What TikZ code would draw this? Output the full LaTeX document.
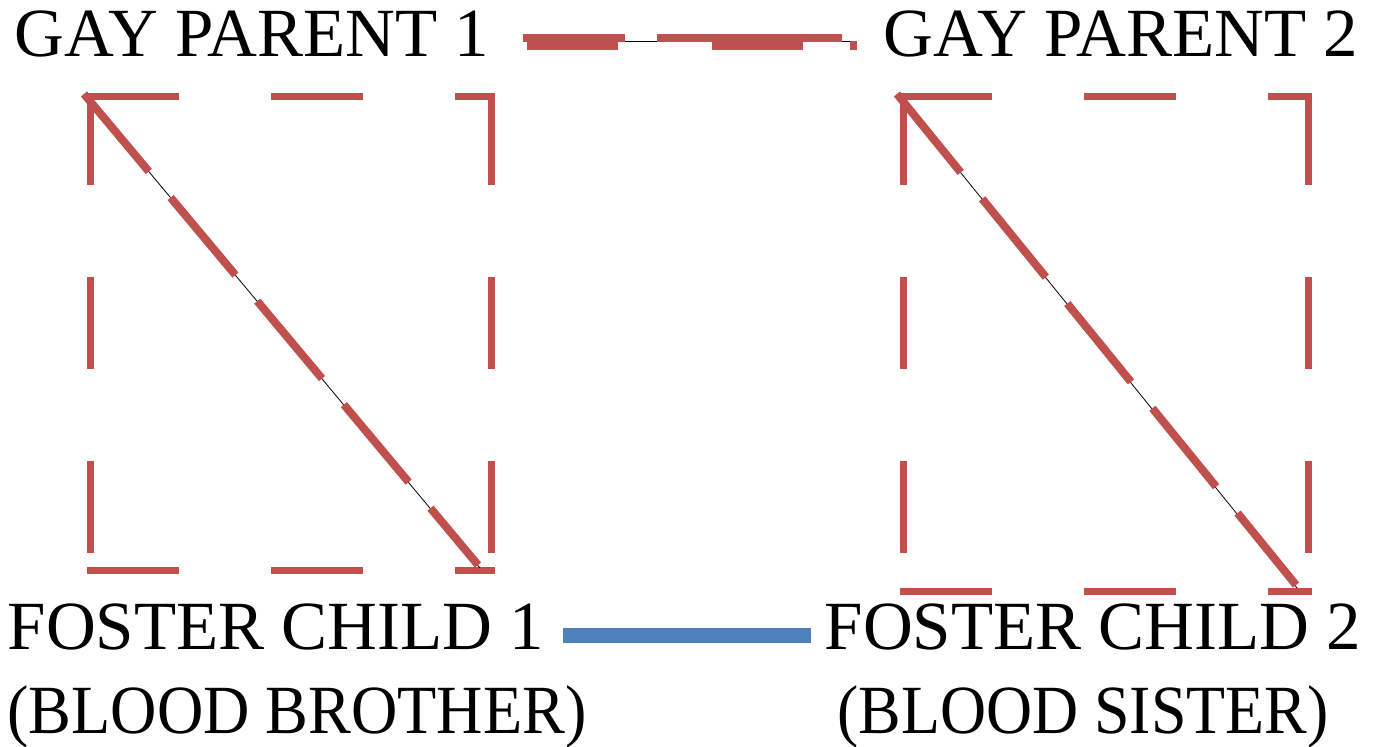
\documentclass[tikz,border=0pt]{standalone}
\usepackage{graphicx}
\usepackage{fontspec}
\setmainfont{Liberation Serif}
\definecolor{redline}{HTML}{C0504D}
\definecolor{blueline}{HTML}{4F81BD}
\begin{document}
\begin{tikzpicture}[x=0.5pt,y=-0.5pt,
        lbl/.style={font=\fontsize{34.5}{42}\selectfont,inner sep=0pt,anchor=base},
        box/.style={draw=redline,line width=3.5pt,line cap=rect,dash pattern=on 42.5pt off 49.5pt},
        diag/.style={draw=redline,line width=4pt,dash pattern=on 50.5pt off 17pt},
        thin/.style={draw=black,line width=0.4pt},
        tie/.style={draw=blueline,line width=7.5pt}
      ]
      \useasboundingbox (0,0) rectangle (1380,747);
      % people
      \node[lbl] (gp1) at (252,57) {GAY PARENT 1};
      \node[lbl] (gp2) at (1121,57) {GAY PARENT 2};
      \node[lbl] (fc1) at (276,649) {FOSTER CHILD 1};
      \node[lbl] (fc1b) at (297,733) {\scalebox{0.93}[1]{(BLOOD BROTHER)}};
      \node[lbl] (fc2) at (1093,649) {FOSTER CHILD 2};
      \node[lbl] (fc2b) at (1083,733) {\scalebox{0.925}[1]{(BLOOD SISTER)}};
      % corners of the boxes
      \coordinate (b1nw) at (90,97);
      \coordinate (b1se) at (491,571);
      \coordinate (b2nw) at (903,97);
      \coordinate (b2se) at (1308,592);
      % left box
      \draw[box] (b1nw) -- (b1nw -| b1se);
      \draw[box] (b1nw) -- (b1nw |- b1se);
      \draw[box] (b1nw |- b1se) -- (b1se);
      \draw[box] (b1nw -| b1se) -- (b1se);
      \draw[thin] (84,94) -- (480,568);
      \draw[diag] (84,94) -- (478,565);
      % right box
      \draw[box] (b2nw) -- (b2nw -| b2se);
      \draw[box] (b2nw) -- (b2nw |- b2se);
      \draw[box] (b2nw |- b2se) -- (b2se);
      \draw[box] (b2nw -| b2se) -- (b2se);
      \draw[thin] (897,94) -- (1297,588);
      \draw[diag] (897,94) -- (1296,585);
      % parents
      \coordinate (pa) at (523,41);
      \coordinate (pb) at (857,41);
      \draw[thin] (pa) -- (pb);
      \draw[diag,line width=4pt,dash pattern=on 51pt off 16pt on 100pt] ([yshift=1.5pt]pa) -- ([yshift=1.5pt,xshift=-7.5pt]pb);
      \draw[diag,line width=4.5pt,dash pattern=on 45.5pt off 47pt on 45.5pt off 23.5pt on 4pt] ([yshift=-2.5pt,xshift=2pt]pa) -- ([yshift=-2.5pt]pb);
      % children
      \draw[tie] (563,635) -- (811,635);
    \end{tikzpicture}
\end{document}
